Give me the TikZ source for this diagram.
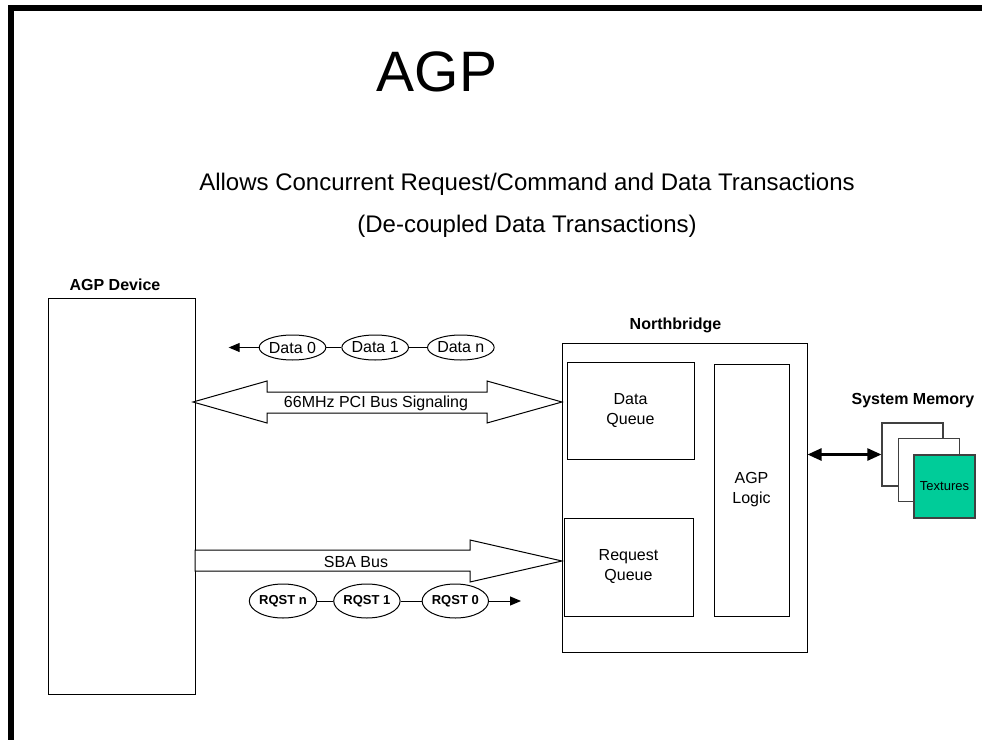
\documentclass[tikz,border=0pt]{standalone}
\usepackage{fontspec}
\setmainfont{Liberation Sans}
\usetikzlibrary{positioning,arrows.meta,shapes.geometric}
\definecolor{texgreen}{HTML}{00CC99}
\tikzset{
  box/.style={draw, line width=1bp, inner sep=0pt, align=center, font=\fontsize{16bp}{20bp}\selectfont},
  hdr/.style={inner sep=0pt, font=\fontsize{16bp}{18bp}\selectfont\bfseries},
  pkt/.style={ellipse, draw, line width=1bp, inner sep=0pt, minimum width=61bp, minimum height=25bp, font=\fontsize{16bp}{18bp}\selectfont},
  rqst/.style={pkt, minimum width=60bp, minimum height=34bp, font=\fontsize{13bp}{15bp}\selectfont\bfseries},
  bus/.style={draw, line width=1bp, fill=white},
  page/.style={draw=black!75, line width=1.2bp, minimum width=61bp, minimum height=63bp, inner sep=0pt, fill=white},
  fwd/.style={-{Triangle[length=11bp,width=9bp]}, line width=1bp},
}
\begin{document}
\begin{tikzpicture}[x=1bp, y=-1bp]
  \useasboundingbox (0,0) rectangle (982,740);
  % frame
  \fill (8,5) rectangle (982,11);
  \fill (8,5) rectangle (14,740);

  % headings
  \node[anchor=base, inner sep=0pt, font=\fontsize{57bp}{60bp}\selectfont] (title) at (437,92) {AGP};
  \node[anchor=base, inner sep=0pt, font=\fontsize{24bp}{28bp}\selectfont] (sub1) at (527,190) {Allows Concurrent Request/Command and Data Transactions};
  \node[anchor=base, inner sep=0pt, font=\fontsize{24bp}{28bp}\selectfont] (sub2) at (527,232) {(De-coupled Data Transactions)};

  % agp device
  \node[box, minimum width=146bp, minimum height=396bp] (dev) at (122,496) {};
  \node[hdr] (devlbl) at (115,285) {AGP Device};

  % northbridge
  \node[box, minimum width=245bp, minimum height=309bp] (nb) at (684.5,497.5) {};
  \node[hdr] (nblbl) at (675.5,325) {Northbridge};
  \node[box, minimum width=127bp, minimum height=97bp] (dq) at (630.5,410.5) {Data\\Queue};
  \node[box, minimum width=129bp, minimum height=98bp] (rq) at (628.5,567) {Request\\Queue};
  \node[box, minimum width=75bp, minimum height=252bp] (logic) at (751.5,490) {AGP\\Logic};

  % system memory
  \node[hdr] (memlbl) at (913,401) {System Memory};
  \node[page] (pg1) at (912.5,454.5) {};
  \node[page] (pg2) at (929,470) {};
  \node[page, fill=texgreen, font=\fontsize{13bp}{15bp}\selectfont] (pg3) at (944.5,486.5) {Textures};
  \draw[{Triangle[length=14bp,width=12bp]}-{Triangle[length=14bp,width=12bp]}, line width=2.5bp]
    (nb.east |- pg1.west) -- (pg1.west);

  % pci bus
  \draw[bus] (193,402) -- (267,381) -- (267,392) -- (487,392) -- (487,381) -- (562,402)
    -- (487,423) -- (487,413) -- (267,413) -- (267,423) -- cycle;
  \node[font=\fontsize{16bp}{18bp}\selectfont] (pci) at (376,403) {66MHz PCI Bus Signaling};

  % sba bus
  \draw[bus] (195,550) -- (470,550) -- (470,540) -- (562,561) -- (470,582) -- (470,571)
    -- (195,571) -- cycle;
  \node[font=\fontsize{16bp}{18bp}\selectfont] (sba) at (356,562) {SBA Bus};

  % data packets
  \node[pkt] (d0) at (292.5,347.5) {Data 0};
  \node[pkt, right=15bp of d0] (d1) {Data 1};
  \node[pkt, right=18bp of d1] (dn) {Data n};
  \coordinate[left=30bp of d0.west] (dout);
  \draw[line width=1bp] (d0) -- (d1);
  \draw[line width=1bp] (d1) -- (dn);
  \draw[fwd] (d0.west) -- (dout);

  % request packets
  \node[rqst] (rn) at (283,601) {RQST n};
  \node[rqst, right=16bp of rn] (r1) {RQST 1};
  \node[rqst, right=21bp of r1] (r0) {RQST 0};
  \coordinate[right=32bp of r0.east] (rout);
  \draw[line width=1bp] (rn) -- (r1);
  \draw[line width=1bp] (r1) -- (r0);
  \draw[fwd] (r0.east) -- (rout);
\end{tikzpicture}
\end{document}
